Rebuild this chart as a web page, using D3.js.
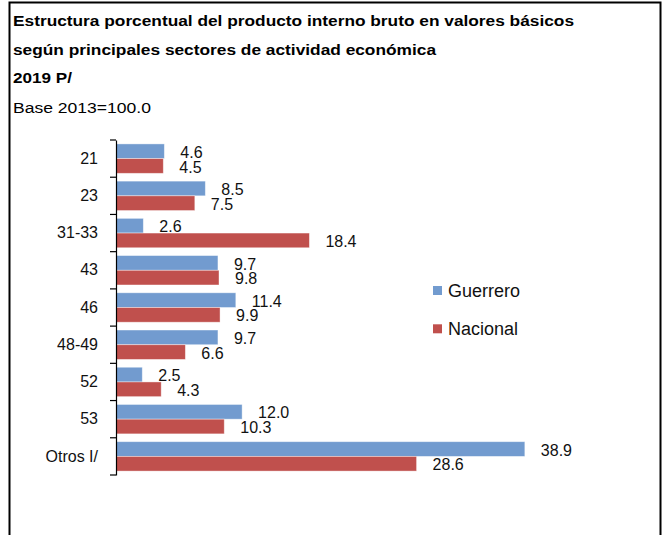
<!DOCTYPE html>
<html>
<head>
<meta charset="utf-8">
<script src="https://cdn.jsdelivr.net/npm/d3@7"></script>
<style>
  body { margin: 0; background: #fff; }
  svg { font-family: "Liberation Sans", Arial, sans-serif; }
</style>
</head>
<body>
<div id="chart"></div>
<script>
// Datos del gráfico
const sectores = ["21", "23", "31-33", "43", "46", "48-49", "52", "53", "Otros I/"];
const guerrero = [4.6, 8.5, 2.6, 9.7, 11.4, 9.7, 2.5, 12.0, 38.9];
const nacional = [4.5, 7.5, 18.4, 9.8, 9.9, 6.6, 4.3, 10.3, 28.6];
const series = [
  { name: "Guerrero", values: guerrero, color: "#729bcf" },
  { name: "Nacional", values: nacional, color: "#c0504d" }
];
const titulo = [
  "Estructura porcentual del producto interno bruto en valores básicos",
  "según principales sectores de actividad económica",
  "2019 P/"
];
const subtitulo = "Base 2013=100.0";

const width = 665, height = 535;

const svg = d3.select("#chart").append("svg")
  .attr("width", width)
  .attr("height", height);

// marco
svg.append("rect")
  .attr("x", 9.5).attr("y", 2.5)
  .attr("width", 651).attr("height", 560)
  .attr("fill", "none")
  .attr("stroke", "#000")
  .attr("stroke-width", 2);

// títulos (texto algo ensanchado, como en la referencia)
const anchosTitulo = [561, 423, 59];
svg.selectAll(".titulo")
  .data(titulo)
  .enter().append("text")
  .attr("class", "titulo")
  .attr("x", 13)
  .attr("y", (d, i) => 26 + i * 28.5)
  .attr("font-size", 14.5)
  .attr("font-weight", "bold")
  .attr("textLength", (d, i) => anchosTitulo[i])
  .attr("lengthAdjust", "spacingAndGlyphs")
  .text(d => d);

svg.append("text")
  .attr("x", 13)
  .attr("y", 112.5)
  .attr("font-size", 15.5)
  .attr("textLength", 138)
  .attr("lengthAdjust", "spacingAndGlyphs")
  .text(subtitulo);

// escalas
const x = d3.scaleLinear().domain([0, 45]).range([116, 116 + 45 * 10.51]);
const y = d3.scaleBand().domain(sectores).range([140, 475])
  .paddingInner(0.21).paddingOuter(0.105);
const ySub = d3.scaleBand().domain(series.map(s => s.name)).range([0, y.bandwidth()]);

// barras
const grupos = svg.selectAll(".serie")
  .data(series)
  .enter().append("g")
  .attr("class", "serie");

grupos.selectAll("rect")
  .data(s => s.values.map((v, i) => ({ v: v, cat: sectores[i], s: s })))
  .enter().append("rect")
  .attr("x", x(0))
  .attr("y", d => y(d.cat) + ySub(d.s.name))
  .attr("width", d => x(d.v) - x(0))
  .attr("height", ySub.bandwidth())
  .attr("fill", d => d.s.color)
  .attr("stroke", "#fff")
  .attr("stroke-opacity", 0.5)
  .attr("stroke-width", 0.8);

// etiquetas de valor
grupos.selectAll("text")
  .data(s => s.values.map((v, i) => ({ v: v, cat: sectores[i], s: s })))
  .enter().append("text")
  .attr("x", d => x(d.v) + 16)
  .attr("y", d => y(d.cat) + ySub(d.s.name) + ySub.bandwidth() / 2 + 1)
  .attr("dy", "0.35em")
  .attr("font-size", 16)
  .attr("fill", "#111")
  .text(d => d.v.toFixed(1));

// eje vertical
const yAxis = d3.axisLeft(y)
  .tickSize(6)
  .tickPadding(12)
  .tickSizeOuter(0);

const gAxis = svg.append("g")
  .attr("transform", `translate(${x(0)},0)`)
  .call(yAxis);
gAxis.select(".domain").attr("stroke", "#000").attr("stroke-width", 1.2);
gAxis.selectAll(".tick line").remove();
gAxis.selectAll(".tick text")
  .attr("font-size", 16)
  .attr("font-family", "Liberation Sans, Arial, sans-serif")
  .attr("fill", "#111");

// marcas entre categorías
const bordes = sectores.map(c => y(c) - y.step() * y.paddingInner() / 2);
bordes.push(475);
bordes[0] = 140;
gAxis.selectAll(".sep")
  .data(bordes)
  .enter().append("line")
  .attr("x1", -6).attr("x2", 0)
  .attr("y1", d => d).attr("y2", d => d)
  .attr("stroke", "#000")
  .attr("stroke-width", 1.2);

// leyenda
const leyenda = svg.selectAll(".leyenda")
  .data(series)
  .enter().append("g")
  .attr("class", "leyenda")
  .attr("transform", (d, i) => `translate(433,${290.5 + i * 38.3})`);

leyenda.append("rect")
  .attr("x", 0).attr("y", -4.5)
  .attr("width", 9).attr("height", 9)
  .attr("fill", d => d.color);

leyenda.append("text")
  .attr("x", 15)
  .attr("dy", "0.35em")
  .attr("font-size", 18)
  .attr("fill", "#111")
  .text(d => d.name);
</script>
</body>
</html>
